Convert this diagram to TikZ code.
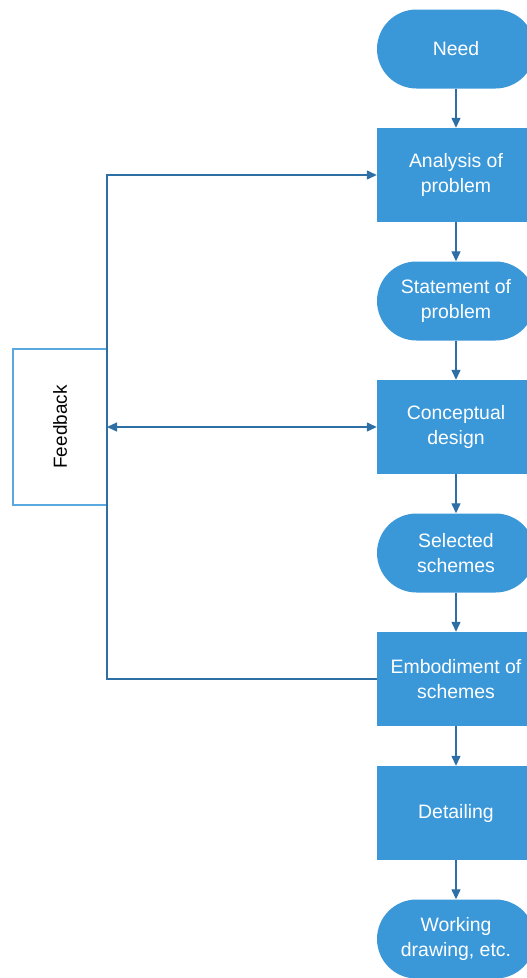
\documentclass[tikz,border=0pt]{standalone}
\usepackage{fontspec}
\setmainfont{Liberation Sans}
\usetikzlibrary{arrows.meta}
\definecolor{boxfill}{HTML}{3A98D9}
\definecolor{linecol}{HTML}{2E6FA5}
\definecolor{fbline}{HTML}{5AA8E0}
\begin{document}
\begin{tikzpicture}[x=1bp,y=-1bp,
  base/.style={fill=boxfill,draw=none,text=white,align=center,
    minimum width=158bp,inner sep=0pt,font=\fontsize{19.5}{25}\selectfont},
  term/.style={base,minimum height=79bp,rounded corners=39.5bp},
  proc/.style={base,minimum height=94bp},
  arr/.style={draw=linecol,line width=1.3bp,-{Triangle[length=10bp,width=9bp]}},
  arrboth/.style={draw=linecol,line width=1.3bp,{Triangle[length=10bp,width=9bp]}-{Triangle[length=10bp,width=9bp]}},
  link/.style={draw=linecol,line width=1.3bp},
  fbbox/.style={draw=fbline,line width=1.3bp,fill=white,minimum width=156bp,
    minimum height=94bp,inner sep=0pt,rotate=90,font=\fontsize{19}{22}\selectfont}]
\useasboundingbox (0,0) rectangle (527,978);
\clip (0,0) rectangle (527,978);

% main chain
\node[term] (need) at (456,49)  {Need};
\node[proc] (ana)  at (456,175) {Analysis of\\problem};
\node[term] (stat) at (456,301) {Statement of\\problem};
\node[proc] (con)  at (456,427) {Conceptual\\design};
\node[term] (sel)  at (456,553) {Selected\\schemes};
\node[proc] (emb)  at (456,679) {Embodiment of\\schemes};
\node[proc] (det)  at (456,813) {Detailing};
\node[term] (work) at (456,939) {Working\\drawing, etc.};

\foreach \a/\b in {need/ana,ana/stat,stat/con,con/sel,sel/emb,emb/det,det/work}
  \draw[arr] (\a) -- (\b);

% feedback loop
\node[fbbox] (fb) at (60,427) {Feedback};
\coordinate (rail) at (107,427);
\draw[link] (emb.west) -- (emb.west -| rail) -- (rail);
\draw[arr] (rail) -- (ana.west -| rail) -- (ana.west);
\draw[arrboth] (rail) -- (con.west);
\end{tikzpicture}
\end{document}
